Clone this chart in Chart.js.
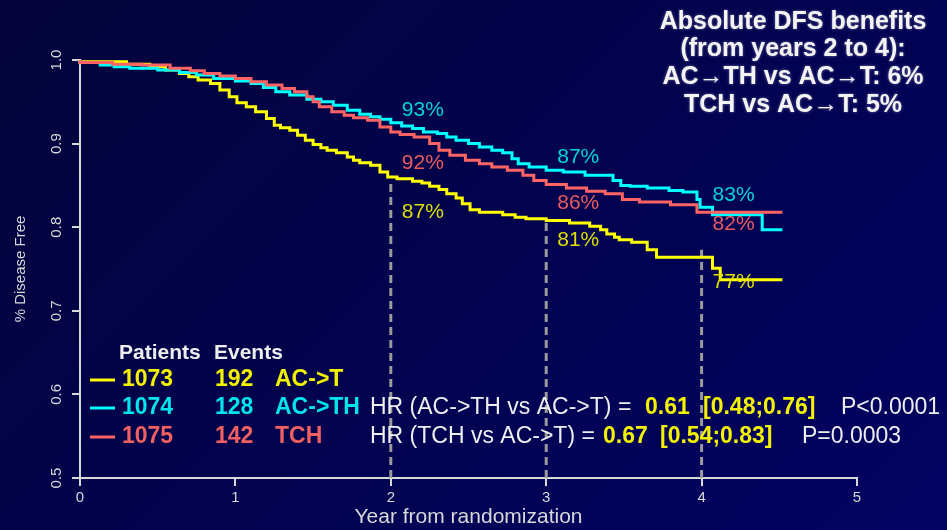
<!DOCTYPE html>
<html>
<head>
<meta charset="utf-8">
<script src="https://cdn.jsdelivr.net/npm/chart.js@4.4.1/dist/chart.umd.min.js"></script>
<style>
  html, body { margin: 0; padding: 0; }
  body {
    width: 947px; height: 530px; overflow: hidden;
    background: linear-gradient(135deg, #04043a 0%, #02024f 50%, #020262 100%);
  }
  canvas { display: block; }
</style>
</head>
<body>
<canvas id="myChart" width="947" height="530"></canvas>
<script>
// Kaplan-Meier curves (years, proportion disease free)
const actTimes  = [0, 0.30, 0.45, 0.55, 0.64, 0.70, 0.76, 0.84, 0.90, 0.96, 1.01, 1.07, 1.13, 1.20, 1.25, 1.29, 1.35, 1.40, 1.45, 1.50, 1.55, 1.59, 1.65, 1.72, 1.76, 1.80, 1.87, 1.93, 1.98, 2.04, 2.14, 2.20, 2.25, 2.31, 2.36, 2.42, 2.46, 2.51, 2.57, 2.72, 2.80, 2.87, 3.00, 3.15, 3.28, 3.35, 3.39, 3.44, 3.47, 3.55, 3.65, 3.71, 4.07, 4.12, 4.35, 4.52];
const actSurv   = [1.0, 0.998, 0.995, 0.992, 0.988, 0.984, 0.980, 0.976, 0.972, 0.964, 0.956, 0.949, 0.944, 0.938, 0.930, 0.922, 0.919, 0.916, 0.910, 0.904, 0.899, 0.895, 0.892, 0.889, 0.884, 0.880, 0.877, 0.874, 0.866, 0.860, 0.858, 0.855, 0.853, 0.849, 0.845, 0.840, 0.835, 0.828, 0.821, 0.818, 0.815, 0.812, 0.810, 0.808, 0.805, 0.801, 0.797, 0.792, 0.788, 0.785, 0.782, 0.773, 0.764, 0.751, 0.737, 0.737];

const acthTimes = [0, 0.13, 0.22, 0.32, 0.50, 0.64, 0.75, 0.86, 1.00, 1.10, 1.18, 1.26, 1.35, 1.46, 1.55, 1.63, 1.72, 1.80, 1.87, 1.93, 2.00, 2.07, 2.14, 2.21, 2.30, 2.36, 2.42, 2.50, 2.57, 2.65, 2.72, 2.78, 2.82, 2.89, 3.00, 3.11, 3.25, 3.43, 3.48, 3.54, 3.65, 3.79, 3.88, 3.97, 3.99, 4.07, 4.39, 4.48, 4.52];
const acthSurv  = [1.0, 0.997, 0.994, 0.992, 0.990, 0.988, 0.985, 0.982, 0.978, 0.975, 0.972, 0.967, 0.962, 0.958, 0.953, 0.950, 0.946, 0.940, 0.935, 0.932, 0.929, 0.925, 0.921, 0.918, 0.914, 0.912, 0.908, 0.904, 0.900, 0.896, 0.892, 0.889, 0.882, 0.876, 0.872, 0.868, 0.866, 0.862, 0.856, 0.850, 0.849, 0.847, 0.844, 0.842, 0.833, 0.824, 0.815, 0.797, 0.797];

const tchTimes  = [0, 0.21, 0.40, 0.58, 0.71, 0.80, 0.90, 1.00, 1.10, 1.20, 1.30, 1.38, 1.46, 1.50, 1.54, 1.62, 1.70, 1.76, 1.85, 1.93, 2.00, 2.06, 2.15, 2.25, 2.31, 2.38, 2.48, 2.57, 2.65, 2.75, 2.85, 2.92, 3.00, 3.13, 3.26, 3.38, 3.49, 3.60, 3.80, 3.97, 3.99, 4.52];
const tchSurv   = [1.0, 0.997, 0.995, 0.994, 0.990, 0.987, 0.984, 0.981, 0.978, 0.974, 0.970, 0.966, 0.962, 0.956, 0.950, 0.944, 0.938, 0.934, 0.931, 0.928, 0.920, 0.914, 0.911, 0.908, 0.900, 0.892, 0.886, 0.880, 0.876, 0.872, 0.868, 0.862, 0.856, 0.851, 0.847, 0.843, 0.840, 0.833, 0.830, 0.827, 0.818, 0.818];

// reference years marked with dashed lines, and the AC->T value where each stops
const markYears = [2, 3, 4];
const markTops  = [0.857, 0.809, 0.773];

// DFS percentages printed at the marked years
const pctACTH = [93, 87, 83];
const pctTCH  = [92, 86, 82];
const pctACT  = [87, 81, 77];

// legend table
const arms     = ['AC->T', 'AC->TH', 'TCH'];
const patients = [1073, 1074, 1075];
const events   = [192, 128, 142];

// hazard ratios vs AC->T
const hrLabels = ['HR (AC->TH vs AC->T) = ', 'HR (TCH vs AC->T) = '];
const hrValues = [0.61, 0.67];
const hrLow    = [0.48, 0.54];
const hrHigh   = [0.76, 0.83];
const pValues  = ['P<0.0001', 'P=0.0003'];

const benefitLines = ['Absolute DFS benefits', '(from years 2 to 4):', 'AC\u2192TH vs AC\u2192T: 6%', 'TCH vs AC\u2192T: 5%'];

// where the percentage labels sit (value units on the y axis)
const posACTH = [0.940, 0.884, 0.838];
const posTCH  = [0.877, 0.829, 0.803];
const posACT  = [0.818, 0.785, 0.734];

// x anchors of the HR pieces: value, interval, p-value
const hrCols = [[645, 703, 841], [603, 660, 802]];

const FONT = '"Liberation Sans", Arial, sans-serif';
const YELLOW = '#ffff00', CYAN = '#00ffff', RED = '#ff6464';
const AXIS = '#d8d8d8';

Chart.defaults.font.family = FONT;

const toPts = (ts, ss) => ts.map((t, i) => ({ x: t, y: ss[i] }));

const curve = (label, ts, ss, color, order) => ({
    label: label,
    data: toPts(ts, ss),
    borderColor: color,
    borderWidth: 3,
    stepped: 'after',
    pointRadius: 0,
    fill: false,
    clip: false,
    order: order
});

const dashSets = markYears.map((yr, i) => ({
    label: 'year ' + yr,
    data: [{ x: yr, y: 0.5 }, { x: yr, y: markTops[i] }],
    borderColor: '#9a9a9a',
    borderWidth: 3,
    borderDash: [8, 5],
    pointRadius: 0,
    fill: false,
    order: 10
}));

const overlay = {
    id: 'overlay',
    afterDraw(chart) {
        const ctx = chart.ctx;
        const xs = chart.scales.x, ys = chart.scales.y;
        ctx.save();

        // rotated y tick labels
        ctx.fillStyle = AXIS;
        ctx.font = '15px ' + FONT;
        ctx.textAlign = 'center';
        ctx.textBaseline = 'middle';
        ys.ticks.forEach(t => {
            ctx.save();
            ctx.translate(57, ys.getPixelForValue(t.value));
            ctx.rotate(-Math.PI / 2);
            ctx.fillText(t.value.toFixed(1), 0, 0);
            ctx.restore();
        });

        // percentages at the marked years
        ctx.textAlign = 'left';
        ctx.font = '21px ' + FONT;
        [[pctACTH, posACTH, '#00d6d6'], [pctTCH, posTCH, '#e85c5c'], [pctACT, posACT, '#dede00']].forEach(([vals, pos, col]) => {
            ctx.fillStyle = col;
            vals.forEach((v, i) => {
                ctx.fillText(v + '%', xs.getPixelForValue(markYears[i]) + 11, ys.getPixelForValue(pos[i]));
            });
        });

        // legend table
        ctx.font = 'bold 21px ' + FONT;
        ctx.fillStyle = '#eeeeee';
        ctx.fillText('Patients', 119, 353);
        ctx.fillText('Events', 214, 353);
        const rowY = [380, 408, 437];
        const lineCols = [YELLOW, CYAN, RED];
        const textCols = ['#f2f200', '#00e4ec', '#f06060'];
        arms.forEach((arm, i) => {
            ctx.strokeStyle = lineCols[i];
            ctx.lineWidth = 3;
            ctx.beginPath();
            ctx.moveTo(90, rowY[i]);
            ctx.lineTo(115, rowY[i]);
            ctx.stroke();
            ctx.font = 'bold 23px ' + FONT;
            ctx.fillStyle = textCols[i];
            ctx.fillText(String(patients[i]), 122, rowY[i]);
            ctx.fillText(String(events[i]), 215, rowY[i]);
            ctx.fillText(arm, 275, rowY[i]);
        });

        // hazard ratio lines
        hrLabels.forEach((lab, i) => {
            const y = rowY[i + 1];
            const [xv, xci, xp] = hrCols[i];
            ctx.font = '23px ' + FONT;
            ctx.fillStyle = '#eeeeee';
            ctx.fillText(lab, 370, y);
            ctx.fillText(pValues[i], xp, y);
            ctx.fillStyle = '#f2f200';
            ctx.font = 'bold 23px ' + FONT;
            ctx.fillText(hrValues[i].toFixed(2), xv, y);
            ctx.fillText('[' + hrLow[i].toFixed(2) + ';' + hrHigh[i].toFixed(2) + ']', xci, y);
        });

        // absolute benefit note, top right
        ctx.textAlign = 'center';
        ctx.font = 'bold 25px ' + FONT;
        ctx.fillStyle = '#f4f4f4';
        ctx.shadowColor = 'rgba(255,255,255,0.45)';
        ctx.shadowBlur = 3;
        const noteY = [22, 49, 77, 105];
        benefitLines.forEach((ln, i) => ctx.fillText(ln, 793, noteY[i]));

        ctx.restore();
    }
};

new Chart(document.getElementById('myChart'), {
    type: 'line',
    data: {
        datasets: [
            curve('TCH', tchTimes, tchSurv, RED, 1),
            curve('AC->TH', acthTimes, acthSurv, CYAN, 2),
            curve('AC->T', actTimes, actSurv, YELLOW, 3),
            ...dashSets
        ]
    },
    options: {
        responsive: false,
        animation: false,
        layout: { padding: { top: 60, right: 90, left: 0, bottom: 0 } },
        plugins: {
            legend: { display: false },
            tooltip: { enabled: false }
        },
        scales: {
            x: {
                type: 'linear',
                min: 0,
                max: 5,
                ticks: { stepSize: 1, color: AXIS, font: { size: 15 }, padding: 3 },
                grid: { drawOnChartArea: false, color: AXIS, lineWidth: 2, tickLength: 8 },
                border: { color: AXIS, width: 2 },
                title: { display: true, text: 'Year from randomization', color: AXIS, font: { size: 21 }, padding: 0 },
                afterFit: s => { s.height = 52; }
            },
            y: {
                type: 'linear',
                min: 0.5,
                max: 1.0,
                ticks: { stepSize: 0.1, display: false },
                grid: { drawOnChartArea: false, color: AXIS, lineWidth: 2, tickLength: 8 },
                border: { color: AXIS, width: 2 },
                title: { display: true, text: '% Disease Free', color: AXIS, font: { size: 15 }, padding: { top: 12, bottom: 0 } },
                afterFit: s => { s.width = 80; }
            }
        }
    },
    plugins: [overlay]
});
</script>
</body>
</html>
